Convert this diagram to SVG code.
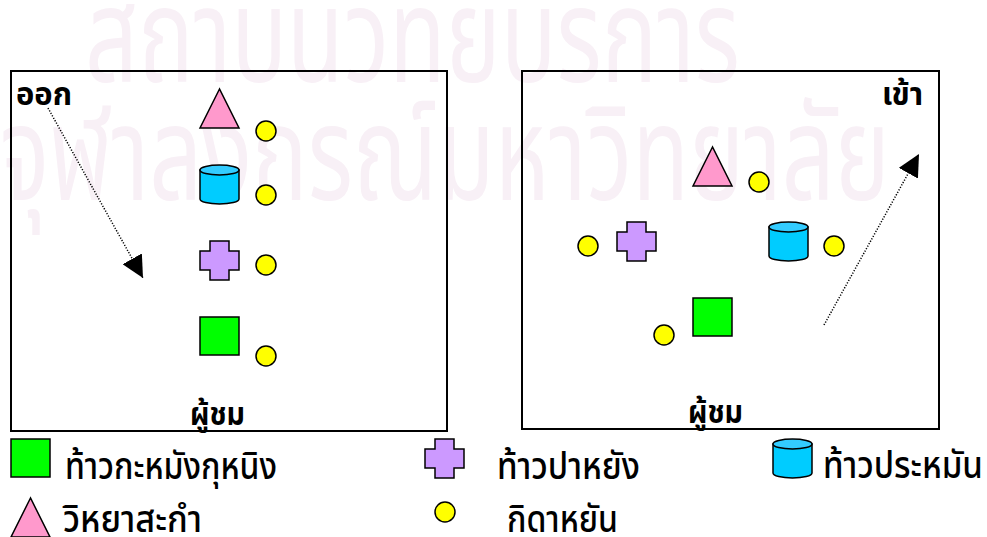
<svg xmlns="http://www.w3.org/2000/svg" width="987" height="537" viewBox="0 0 987 537">
  <style>
    .wm { font-family: "Noto Sans Thai", "Noto Sans", "DejaVu Sans", sans-serif; font-size: 132px; fill: #F8F0F6; }
    .lbl { font-family: "Noto Sans Thai", "Noto Sans", "DejaVu Sans", sans-serif; font-size: 32px; font-weight: bold; fill: #000; }
    .leg { font-family: "Noto Sans Thai", "Noto Sans", "DejaVu Sans", sans-serif; font-size: 37px; font-weight: 500; fill: #000; }
    .box { fill: none; stroke: #000; stroke-width: 2; }
    .sh { stroke: #000; stroke-width: 1.5; stroke-linejoin: miter; }
    .dot { fill: none; stroke: #000; stroke-width: 1.5; stroke-dasharray: 1.2 1.6; }
  </style>
  <defs>
    <g id="tri"><polygon class="sh" points="19.5,0 0,39 39,39" fill="#FF99CC"/></g>
    <g id="sq"><rect class="sh" x="0" y="0" width="39" height="38" fill="#00FF00"/></g>
    <g id="crs"><polygon class="sh" points="10,0 29,0 29,10 39,10 39,29 29,29 29,39 10,39 10,29 0,29 0,10 10,10" fill="#CC99FF"/></g>
    <g id="cyl">
      <path class="sh" d="M0,5 L0,34 A19.5,5 0 0 0 39,34 L39,5 Z" fill="#00CCFF"/>
      <ellipse class="sh" cx="19.5" cy="5" rx="19.5" ry="5" fill="#33CCFF"/>
    </g>
    <g id="cir"><circle class="sh" cx="0" cy="0" r="10" fill="#FFFF00"/></g>
    <marker id="ah" markerUnits="userSpaceOnUse" markerWidth="22" markerHeight="22" viewBox="0 0 22 22" refX="22" refY="11" orient="auto">
      <polygon points="0,0 22,11 0,22" fill="#000"/>
    </marker>
  </defs>

  <g id="watermark">
    <text class="wm" x="85" y="82" textLength="655" lengthAdjust="spacingAndGlyphs">สถาบันวิทยบริการ</text>
    <text class="wm" x="0" y="200" textLength="890" lengthAdjust="spacingAndGlyphs">จุฬาลงกรณ์มหาวิทยาลัย</text>
  </g>

  <g id="box-out">
    <rect class="box" x="11" y="71" width="436" height="360"/>
    <text class="lbl" x="16" y="105" textLength="56" lengthAdjust="spacingAndGlyphs">ออก</text>
    <text class="lbl" x="190" y="425" textLength="55" lengthAdjust="spacingAndGlyphs">ผู้ชม</text>
  </g>
  <g id="box-in">
    <rect class="box" x="522" y="71" width="417" height="358"/>
    <text class="lbl" x="882" y="105" textLength="41" lengthAdjust="spacingAndGlyphs">เข้า</text>
    <text class="lbl" x="688" y="423" textLength="55" lengthAdjust="spacingAndGlyphs">ผู้ชม</text>
  </g>

  <g id="left-items">
    <g id="l-tri"><use href="#tri" x="200" y="89"/></g>
    <g id="l-cir1"><use href="#cir" x="266" y="131"/></g>
    <g id="l-cyl"><use href="#cyl" x="200" y="165"/></g>
    <g id="l-cir2"><use href="#cir" x="266" y="195"/></g>
    <g id="l-crs"><use href="#crs" x="200" y="241"/></g>
    <g id="l-cir3"><use href="#cir" x="266" y="265"/></g>
    <g id="l-sq"><use href="#sq" x="200" y="317"/></g>
    <g id="l-cir4"><use href="#cir" x="266" y="356"/></g>
  </g>

  <g id="right-items">
    <g id="r-tri"><use href="#tri" x="693" y="147"/></g>
    <g id="r-cir1"><use href="#cir" x="759" y="182"/></g>
    <g id="r-cir2"><use href="#cir" x="588" y="246"/></g>
    <g id="r-crs"><use href="#crs" x="617" y="222"/></g>
    <g id="r-cyl"><use href="#cyl" x="769" y="222"/></g>
    <g id="r-cir3"><use href="#cir" x="834" y="246"/></g>
    <g id="r-sq"><use href="#sq" x="693" y="298"/></g>
    <g id="r-cir4"><use href="#cir" x="664" y="335"/></g>
  </g>

  <g id="connectors">
    <line class="dot" x1="48" y1="108" x2="143" y2="278" marker-end="url(#ah)"/>
    <line class="dot" x1="824" y1="325" x2="919" y2="154" marker-end="url(#ah)"/>
  </g>

  <g id="legend">
    <g id="lg-sq"><use href="#sq" x="11" y="439"/><text class="leg" x="65" y="479" textLength="212" lengthAdjust="spacingAndGlyphs">ท้าวกะหมังกุหนิง</text></g>
    <g id="lg-crs"><use href="#crs" x="425" y="439"/><text class="leg" x="497" y="479" textLength="143" lengthAdjust="spacingAndGlyphs">ท้าวปาหยัง</text></g>
    <g id="lg-cyl"><use href="#cyl" x="773" y="439"/><text class="leg" x="823" y="478" textLength="160" lengthAdjust="spacingAndGlyphs">ท้าวประหมัน</text></g>
    <g id="lg-tri"><use href="#tri" x="11" y="498"/><text class="leg" x="63" y="532" textLength="139" lengthAdjust="spacingAndGlyphs">วิหยาสะกำ</text></g>
    <g id="lg-cir"><use href="#cir" x="445" y="512"/><text class="leg" x="507" y="532" textLength="111" lengthAdjust="spacingAndGlyphs">กิดาหยัน</text></g>
  </g>
</svg>
